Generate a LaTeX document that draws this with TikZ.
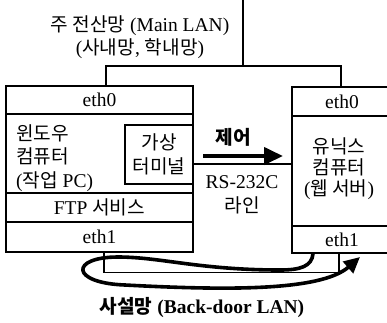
\documentclass[tikz,border=0pt]{standalone}
\usepackage{fontspec}
\setmainfont{Liberation Serif}
\newfontfamily\kr[Scale=0.98]{Noto Sans CJK KR}
\usetikzlibrary{arrows.meta, positioning, calc}

\begin{document}
\begin{tikzpicture}[x=1pt, y=-1pt,
  sect/.style={draw, line width=1.1pt, inner sep=0pt, minimum width=187pt,
    font=\fontsize{19.5}{23.5}\selectfont},
  rsect/.style={sect, minimum width=100pt},
  txt/.style={inner sep=0pt, align=center, font=\fontsize{19.5}{23.5}\selectfont},
  wire/.style={line width=1.1pt},
  fat/.style={line width=3.6pt, -{Triangle[length=16pt,width=15pt]}}]
  \useasboundingbox (0,0) rectangle (387,322);
  % windows pc
  \node[sect, minimum height=28pt] (leth0) at (99.5,100) {eth0};
  \node[sect, minimum height=79pt] (lbody) at (99.5,153.5) {};
  \node[sect, minimum height=29pt] (lftp) at (99.5,207.5) {FTP {\kr 서비스}};
  \node[sect, minimum height=30pt] (leth1) at (99.5,237) {eth1};
  \node[sect, minimum width=68pt, minimum height=59pt, align=center] (vterm) at (159,154.5) {{\kr 가상}\\{\kr 터미널}};
  \node[txt, align=left, anchor=west] (winpc) at (16,158) {{\kr 윈도우}\\{\kr 컴퓨터}\\({\kr 작업} PC)};
  % unix server
  \node[rsect, minimum height=29pt] (reth0) at (342,101.5) {eth0};
  \node[rsect, minimum height=110pt] (rbody) at (342,171) {};
  \node[rsect, minimum height=27pt] (reth1) at (342,239.5) {eth1};
  \node[txt, font=\fontsize{19.5}{21}\selectfont] (unix) at (339,169) {{\kr 유닉스}\\{\kr 컴퓨터}\\({\kr 웹 서버})};
  % main lan
  \node[txt, font=\fontsize{19.5}{23}\selectfont] (mainlan) at (140,37) {{\kr 주 전산망} (Main LAN)\\({\kr 사내망}, {\kr 학내망})};
  \coordinate (lantop) at (243,-2);
  \coordinate (hub) at (243,66);
  \draw[wire] ([xshift=6.5pt]leth0.north) |- (hub) -| ([xshift=-1pt]reth0.north);
  \draw[wire] (lantop) -- (hub);
  % serial line
  \draw[wire] ([yshift=-9.5pt]vterm.east) coordinate (rsA) -- (rsA -| rbody.west);
  \coordinate (ctlA) at (203,156);
  \coordinate (ctlB) at (283,156);
  \draw[line width=4pt, -{Triangle[length=19pt,width=17pt]}] (ctlA) -- (ctlB);
  \node[txt, font=\bfseries\fontsize{19.5}{23}\selectfont] (ctl) at (233,137) {{\kr 제어}};
  \node[txt, font=\fontsize{19.5}{24}\selectfont] (rsline) at (242,195) {RS-232C\\{\kr 라인}};
  % back-door lan
  \draw[wire] ([xshift=4.5pt]leth1.south) |- ++(0,20) coordinate (bdl) -| ([xshift=-3pt]reth1.south);
  \draw[fat] ([xshift=-29pt]reth1.south) .. controls +(-1,13) and (300,270) .. (280,270)
    .. controls (200,270) and (160,257) .. (118,257)
    .. controls (70,257) and (70,283) .. (125,285)
    .. controls (220,290) and (320,292) .. (360,257);
  \node[txt, font=\bfseries\fontsize{19.5}{23}\selectfont] (bdlan) at (202,308) {{\kr 사설망} (Back-door LAN)};
\end{tikzpicture}
\end{document}
